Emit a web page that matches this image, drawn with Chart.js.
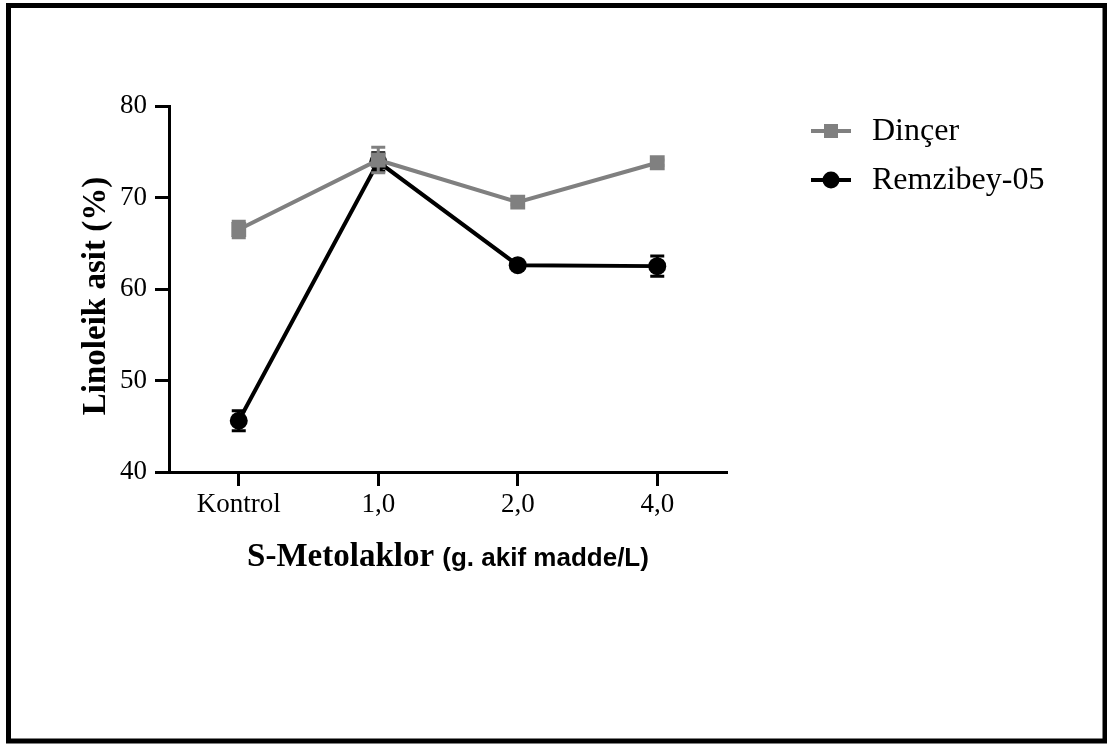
<!DOCTYPE html>
<html>
<head>
<meta charset="utf-8">
<script src="https://cdn.jsdelivr.net/npm/chart.js@4"></script>
<style>
    html, body { margin: 0; padding: 0; background: #fff; }
    #wrap { width: 1107px; height: 744px; }
</style>
</head>
<body>
<div id="wrap"><canvas id="lineChart"></canvas></div>
<script>
//============================================= Data =============================================//
const categories = ['Kontrol', '1,0', '2,0', '4,0'];
const dincer = [66.5, 74.1, 69.5, 73.8];
const dincerErr = [0.9, 1.4, 0.3, 0.3];
const remzibey = [45.6, 73.9, 62.6, 62.5];
const remzibeyErr = [1.1, 1.0, 0.3, 1.1];
const yMin = 40, yMax = 80, yStep = 10;

const GREY = '#808080';
const BLACK = '#000000';
const SERIF = '"Liberation Serif", "Times New Roman", serif';
const SANS = '"Liberation Sans", Arial, sans-serif';

//============================================= Plugins =============================================//
// error bars drawn just under each dataset's own points
const errorBars = {
    id: 'errorBars',
    beforeDatasetDraw(chart, args) {
        const ds = chart.data.datasets[args.index];
        if (!ds.errors) return;
        const { ctx } = chart;
        const y = chart.scales.y;
        ctx.save();
        ctx.strokeStyle = ds.borderColor;
        ctx.lineWidth = 3;
        args.meta.data.forEach((pt, i) => {
            const v = ds.data[i], e = ds.errors[i];
            const top = y.getPixelForValue(v + e);
            const bot = y.getPixelForValue(v - e);
            ctx.beginPath();
            ctx.moveTo(pt.x, top); ctx.lineTo(pt.x, bot);
            ctx.moveTo(pt.x - 7, top); ctx.lineTo(pt.x + 7, top);
            ctx.moveTo(pt.x - 7, bot); ctx.lineTo(pt.x + 7, bot);
            ctx.stroke();
        });
        ctx.restore();
    }
};

// frame, axis titles and legend
const decorations = {
    id: 'decorations',
    afterDraw(chart) {
        const { ctx, chartArea } = chart;
        ctx.save();

        // frame round the picture
        ctx.strokeStyle = BLACK;
        ctx.lineWidth = 5;
        ctx.strokeRect(8.5, 5.5, 1096.5, 735.5);

        // y title
        ctx.fillStyle = BLACK;
        ctx.textAlign = 'center';
        ctx.textBaseline = 'middle';
        ctx.translate(96, (chartArea.top + chartArea.bottom) / 2 + 7);
        ctx.rotate(-Math.PI / 2);
        ctx.font = 'bold 33px ' + SERIF;
        ctx.fillText('Linoleik asit (%)', 0, 0);
        ctx.setTransform(1, 0, 0, 1, 0, 0);

        // x title, two fonts
        const part1 = 'S-Metolaklor ';
        const part2 = '(g. akif madde/L)';
        ctx.font = 'bold 33px ' + SERIF;
        const w1 = ctx.measureText(part1).width;
        ctx.font = 'bold 26px ' + SANS;
        const w2 = ctx.measureText(part2).width;
        const xStart = (chartArea.left + chartArea.right) / 2 - (w1 + w2) / 2;
        ctx.textAlign = 'left';
        ctx.textBaseline = 'alphabetic';
        ctx.font = 'bold 33px ' + SERIF;
        ctx.fillText(part1, xStart, 566);
        ctx.font = 'bold 26px ' + SANS;
        ctx.fillText(part2, xStart + w1, 566);

        // legend
        const lx = chartArea.right + 84;
        const rows = [131, 180];
        chart.data.datasets.forEach((ds, i) => {
            const ly = rows[i];
            ctx.strokeStyle = ds.borderColor;
            ctx.lineWidth = 4;
            ctx.beginPath();
            ctx.moveTo(lx, ly); ctx.lineTo(lx + 40, ly);
            ctx.stroke();
            ctx.fillStyle = ds.backgroundColor;
            if (ds.pointStyle === 'rect') {
                ctx.fillRect(lx + 20 - 7, ly - 7, 14, 14);
            } else {
                ctx.beginPath();
                ctx.arc(lx + 20, ly, 8.5, 0, Math.PI * 2);
                ctx.fill();
            }
            ctx.fillStyle = BLACK;
            ctx.font = '32px ' + SERIF;
            ctx.textAlign = 'left';
            ctx.textBaseline = 'middle';
            ctx.fillText(ds.label, lx + 61, ly + 1);
        });
        ctx.restore();
    }
};

//============================================= Line chart =============================================//
const lineData = {
    labels: categories,
    datasets: [
        {
            label: 'Dinçer',
            data: dincer,
            errors: dincerErr,
            borderColor: GREY,
            backgroundColor: GREY,
            borderWidth: 4,
            pointStyle: 'rect',
            pointRadius: 10.5,
            pointBorderWidth: 0,
            tension: 0
        },
        {
            label: 'Remzibey-05',
            data: remzibey,
            errors: remzibeyErr,
            borderColor: BLACK,
            backgroundColor: BLACK,
            borderWidth: 4,
            pointStyle: 'circle',
            pointRadius: 9,
            pointBorderWidth: 0,
            tension: 0
        }
    ]
};

const lineConfig = {
    type: 'line',
    data: lineData,
    options: {
        responsive: true,
        maintainAspectRatio: false,
        animation: false,
        events: [],
        layout: {
            padding: { top: 106, right: 380, left: 0, bottom: 0 }
        },
        plugins: {
            legend: { display: false },
            tooltip: { enabled: false }
        },
        scales: {
            x: {
                offset: true,
                afterFit: (scale) => { scale.height = 272; },
                border: { color: BLACK, width: 3 },
                grid: {
                    offset: false,
                    drawOnChartArea: false,
                    tickLength: 14,
                    tickWidth: 3,
                    tickColor: BLACK
                },
                ticks: {
                    color: BLACK,
                    padding: 3,
                    font: { family: SERIF, size: 27 }
                }
            },
            y: {
                min: yMin,
                max: yMax,
                afterFit: (scale) => { scale.width = 169; },
                border: { color: BLACK, width: 3 },
                grid: {
                    drawOnChartArea: false,
                    tickLength: 14,
                    tickWidth: 3,
                    tickColor: BLACK
                },
                ticks: {
                    stepSize: yStep,
                    color: BLACK,
                    padding: 8,
                    font: { family: SERIF, size: 27 }
                }
            }
        }
    },
    plugins: [errorBars, decorations]
};

new Chart(document.getElementById('lineChart'), lineConfig);
</script>
</body>
</html>
